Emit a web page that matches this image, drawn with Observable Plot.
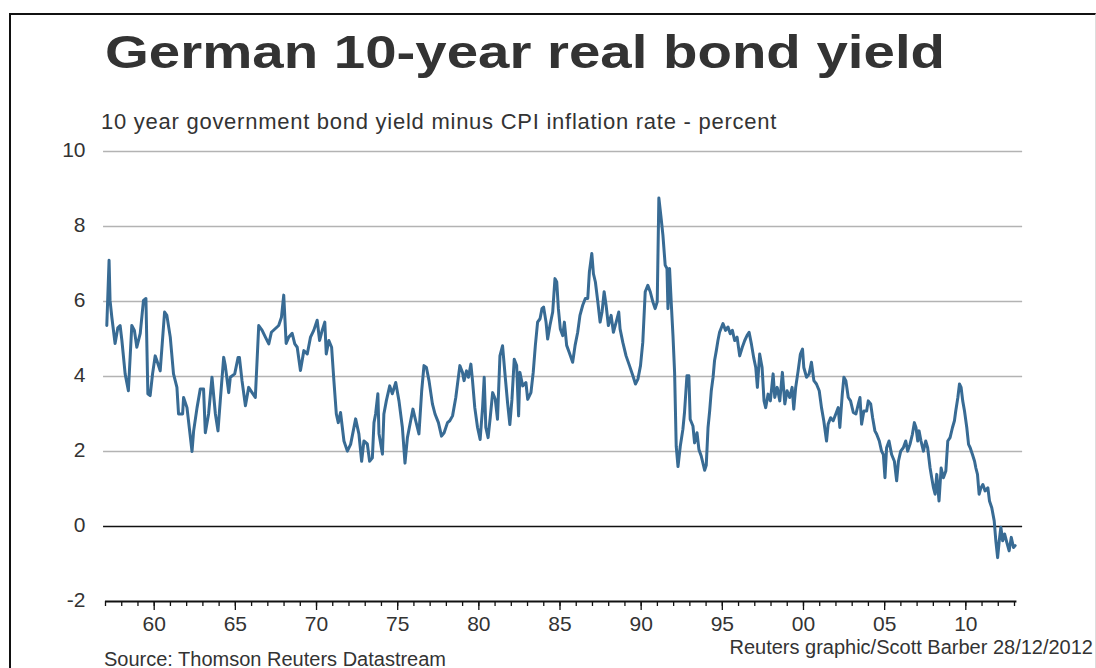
<!DOCTYPE html>
<html><head><meta charset="utf-8">
<script src="https://cdn.jsdelivr.net/npm/d3@7"></script>
<script src="https://cdn.jsdelivr.net/npm/@observablehq/plot@0.6"></script>
<style>
html,body{margin:0;padding:0;background:#fff;}
body{width:1096px;height:668px;overflow:hidden;position:relative;font-family:"Liberation Sans",Arial,sans-serif;}
#frame{position:absolute;left:9px;top:13px;width:1084px;height:700px;border-top:2px solid #111;border-left:2px solid #111;border-right:1px solid #ddd;}
#title{position:absolute;left:105px;top:29px;font-size:46px;font-weight:bold;color:#333;line-height:46px;white-space:nowrap;transform-origin:0 0;}
#subtitle{position:absolute;left:101px;top:111px;font-size:22px;color:#333;line-height:22px;white-space:nowrap;}
#chart{position:absolute;left:0;top:140px;}
#source{position:absolute;left:104px;top:649px;font-size:20px;color:#333;line-height:20px;white-space:nowrap;}
#credit{position:absolute;right:3px;top:637px;font-size:20px;color:#333;line-height:20px;white-space:nowrap;}
</style></head>
<body>
<div id="frame"></div>
<div id="title">German 10-year real bond yield</div>
<div id="subtitle">10 year government bond yield minus CPI inflation rate - percent</div>
<div id="chart"></div>
<div id="source">Source: Thomson Reuters Datastream</div>
<div id="credit">Reuters graphic/Scott Barber 28/12/2012</div>
<script>
const years = [
1957.08,1957.22,1957.28,1957.39,1957.59,1957.76,1957.90,1958.01,1958.21,1958.41,1958.62,1958.78,1958.93,1959.14,1959.34,1959.49,1959.61,1959.75,1959.90,
1960.06,1960.17,1960.37,1960.64,1960.78,1960.99,1961.19,1961.40,1961.50,1961.75,1961.81,1962.02,1962.33,1962.43,1962.64,1962.84,1963.04,1963.15,1963.35,1963.56,1963.77,1963.93,
1964.07,1964.28,1964.38,1964.59,1964.69,1964.96,1965.17,1965.25,1965.41,1965.62,1965.82,1966.03,1966.23,1966.44,1966.65,1966.85,1967.06,1967.22,1967.47,1967.67,1967.84,1967.98,
1968.13,1968.29,1968.50,1968.66,1968.81,1969.01,1969.22,
1969.43,1969.63,1969.83,1970.04,1970.19,1970.35,1970.51,1970.60,1970.76,1970.93,1971.07,1971.22,1971.34,1971.48,1971.69,1971.90,1972.10,1972.41,1972.61,1972.78,1972.92,
1973.13,1973.27,1973.44,1973.54,1973.64,1973.78,1973.85,1974.06,1974.15,1974.30,1974.51,1974.67,1974.88,1975.08,1975.29,1975.45,1975.60,1975.80,1975.94,1976.11,1976.31,
1976.48,1976.62,1976.77,1976.93,1977.14,1977.30,1977.51,1977.70,1977.86,1978.07,1978.21,1978.38,1978.58,1978.83,1978.99,1979.09,1979.24,1979.36,1979.51,1979.61,1979.75,
1979.92,1980.08,1980.23,1980.33,1980.43,1980.57,1980.70,1980.85,1981.01,
1981.15,1981.30,1981.46,1981.62,1981.77,1981.91,1982.04,1982.18,1982.33,1982.45,1982.53,1982.70,1982.90,1983.01,1983.21,1983.35,1983.48,1983.62,1983.77,1983.89,1983.99,
1984.14,1984.24,1984.38,1984.55,1984.69,1984.80,1984.90,1985.02,1985.17,1985.27,1985.41,1985.57,1985.78,1985.93,1986.09,1986.23,1986.40,1986.56,1986.71,1986.81,1986.96,
1987.06,1987.18,1987.33,1987.47,1987.59,1987.72,1987.84,1987.98,1988.15,1988.29,1988.46,1988.62,1988.70,1988.87,1989.07,1989.28,1989.49,1989.65,1989.80,1989.96,
1990.10,1990.25,1990.41,1990.56,1990.72,1990.86,1990.99,1991.09,1991.23,1991.34,1991.48,1991.59,1991.65,1991.75,1991.85,1991.96,1992.06,1992.16,1992.27,1992.41,1992.57,
1992.67,1992.82,1992.94,1993.02,1993.19,1993.29,1993.44,1993.56,1993.70,1993.91,1994.01,
1994.12,1994.22,1994.32,1994.43,1994.52,1994.63,1994.73,1994.83,1995.04,1995.20,1995.35,1995.49,1995.62,1995.76,1995.91,1996.07,1996.23,1996.38,1996.52,1996.65,1996.79,
1996.93,1997.06,1997.16,1997.30,1997.45,1997.57,1997.67,1997.82,1997.96,1998.13,1998.23,1998.38,1998.54,1998.70,1998.85,1998.99,1999.15,1999.30,1999.40,1999.52,1999.67,
1999.81,1999.94,2000.02,2000.19,2000.35,2000.49,2000.64,2000.80,2000.97,2001.11,2001.25,2001.42,2001.52,2001.67,2001.83,2001.99,2002.14,2002.24,2002.39,2002.49,2002.61,
2002.76,2002.90,2003.07,2003.23,2003.38,2003.48,2003.58,2003.72,2003.89,2003.99,2004.14,2004.26,2004.40,2004.51,2004.67,2004.81,
2004.92,2005.02,2005.12,2005.27,2005.43,2005.60,2005.74,2005.85,2005.99,2006.15,2006.30,2006.42,2006.56,2006.71,2006.83,2006.93,2007.04,2007.12,2007.24,2007.39,2007.53,
2007.65,2007.80,2007.90,2008.01,2008.11,2008.21,2008.35,2008.48,2008.62,2008.77,2008.89,2009.03,2009.18,2009.30,2009.38,2009.51,2009.61,2009.71,2009.81,2009.92,2010.06,
2010.17,2010.27,2010.41,2010.54,2010.62,2010.72,2010.82,2010.93,2011.05,2011.19,2011.36,2011.46,2011.60,2011.75,2011.85,2011.96,2012.06,2012.16,2012.27,2012.39,2012.53,
2012.67,2012.80,2012.94,2013.04
];
const values = [
5.36,7.10,6.03,5.58,4.88,5.30,5.36,4.96,4.07,3.62,5.36,5.23,4.78,5.15,6.03,6.08,3.54,3.49,4.07,
4.55,4.42,4.15,5.72,5.63,5.05,4.07,3.71,3.00,3.00,3.44,3.17,2.00,2.55,3.17,3.67,3.67,2.50,3.00,3.98,3.00,2.55,
3.35,4.51,4.29,3.57,3.98,4.07,4.51,4.51,3.89,3.22,3.71,3.57,3.44,5.36,5.23,5.05,4.87,5.18,5.28,5.36,5.58,6.17,
4.88,5.05,5.15,4.87,4.78,4.16,4.69,
4.60,5.05,5.23,5.50,4.96,5.23,5.45,4.60,4.96,4.78,3.89,3.00,2.77,3.04,2.28,2.01,2.19,2.87,2.47,1.74,2.28,
2.20,1.74,1.83,2.77,3.00,3.54,2.47,1.93,3.00,3.35,3.75,3.54,3.84,3.35,2.64,1.69,2.37,2.82,3.13,2.82,2.47,
3.62,4.29,4.24,3.89,3.27,3.00,2.77,2.41,2.50,2.77,2.82,2.95,3.44,4.29,4.11,3.89,4.15,3.98,4.33,3.89,3.17,
2.64,2.32,3.17,3.98,2.64,2.37,2.90,3.57,3.40,
2.86,4.55,4.82,4.02,3.30,2.72,3.39,4.46,4.29,2.95,4.11,3.75,3.84,3.39,3.57,4.11,4.82,5.45,5.54,5.81,5.85,
5.45,5.00,5.36,5.72,6.61,6.52,5.81,5.27,5.09,5.45,4.83,4.64,4.38,4.83,5.18,5.63,5.90,6.08,6.08,6.79,7.28,
6.74,6.52,5.99,5.45,5.72,6.26,5.90,5.36,5.63,5.18,5.45,5.72,5.27,4.91,4.55,4.29,4.02,3.80,3.93,4.29,
4.91,6.26,6.43,6.26,5.99,5.81,5.99,8.76,8.22,7.77,6.97,6.88,5.81,6.88,5.99,5.09,4.11,2.14,1.60,2.14,2.59,
3.04,4.02,4.02,2.86,2.68,2.23,2.50,2.05,1.88,1.50,1.63,
2.64,3.08,3.62,3.98,4.42,4.69,4.96,5.18,5.41,5.23,5.32,5.14,5.23,4.96,5.05,4.55,4.78,4.96,5.09,5.18,4.87,
4.51,4.24,3.71,4.60,4.24,3.35,3.17,3.53,3.35,4.07,3.44,3.71,3.35,4.11,3.27,3.62,3.44,3.71,3.13,3.71,4.15,
4.60,4.73,4.24,3.98,4.07,4.38,3.89,3.80,3.62,3.17,2.82,2.28,2.73,2.90,2.82,3.00,3.17,2.64,3.53,3.98,3.89,
3.44,3.35,3.04,3.00,3.27,3.44,2.73,3.08,3.08,3.35,3.27,2.90,2.55,2.46,2.28,2.01,
1.92,1.30,2.10,2.28,1.92,1.74,1.22,1.74,2.01,2.10,2.28,2.01,2.19,2.46,2.77,2.64,2.28,2.55,2.28,2.01,2.28,
2.10,1.56,1.30,1.03,0.86,1.39,0.68,1.56,1.30,1.48,2.28,2.37,2.64,2.82,3.08,3.44,3.80,3.71,3.35,3.08,2.64,
2.19,2.10,1.92,1.74,1.56,1.39,0.86,1.03,1.12,0.95,1.03,0.68,0.50,0.15,-0.38,-0.83,-0.38,-0.02,-0.38,-0.20,-0.43,
-0.65,-0.29,-0.56,-0.51
];
const yTicks = [-2, 0, 2, 4, 6, 8, 10];
const xMajorTicks = [1960, 1965, 1970, 1975, 1980, 1985, 1990, 1995, 2000, 2005, 2010];
const xMinorTicks = d3.range(1957, 2014);

const data = years.map((y, i) => ({year: y, value: values[i]}));

const chart = Plot.plot({
  width: 1096,
  height: 510,
  marginLeft: 105,
  marginRight: 82,
  marginTop: 11,
  marginBottom: 49,
  x: {domain: [1957, 2013]},
  y: {domain: [-2, 10]},
  style: {fontFamily: "'Liberation Sans', Arial, sans-serif", color: "#333", background: "transparent", overflow: "visible"},
  marks: [
    Plot.ruleY(yTicks.filter(d => d > 0), {x1: 1956.88, x2: 2013.5, stroke: "#b3b3b3", strokeWidth: 1.5}),
    Plot.ruleY([0], {x1: 1956.88, x2: 2013.5, stroke: "#111", strokeWidth: 1.5}),
    Plot.axisY(yTicks, {tickSize: 0, tickPadding: 20, fontSize: 21, dy: -1, tickFormat: d => String(d), label: null}),
    Plot.line(data, {x: "year", y: "value", stroke: "#386b94", strokeWidth: 3, strokeLinejoin: "round"}),
    Plot.ruleY([-2], {x1: 1957, x2: 2013.15, stroke: "#111", strokeWidth: 2}),
    Plot.axisX(xMinorTicks, {tickSize: 5, tickFormat: () => "", stroke: "#111", strokeWidth: 1.3, label: null}),
    Plot.axisX(xMajorTicks, {tickSize: 9, tickPadding: 6, fontSize: 21, tickFormat: d => String(d % 100).padStart(2, "0"), stroke: "#111", strokeWidth: 1.3, label: null})
  ]
});
document.getElementById("chart").appendChild(chart);

function fitScale(id, target) {
  const el = document.getElementById(id);
  const w = el.getBoundingClientRect().width;
  el.style.transform = "scaleX(" + (target / w) + ")";
}
function fitSpacing(id, target) {
  const el = document.getElementById(id);
  const w = el.getBoundingClientRect().width;
  const n = el.textContent.length;
  el.style.letterSpacing = ((target - w) / n) + "px";
}
fitScale("title", 840);
fitSpacing("subtitle", 676);
</script>
</body></html>
